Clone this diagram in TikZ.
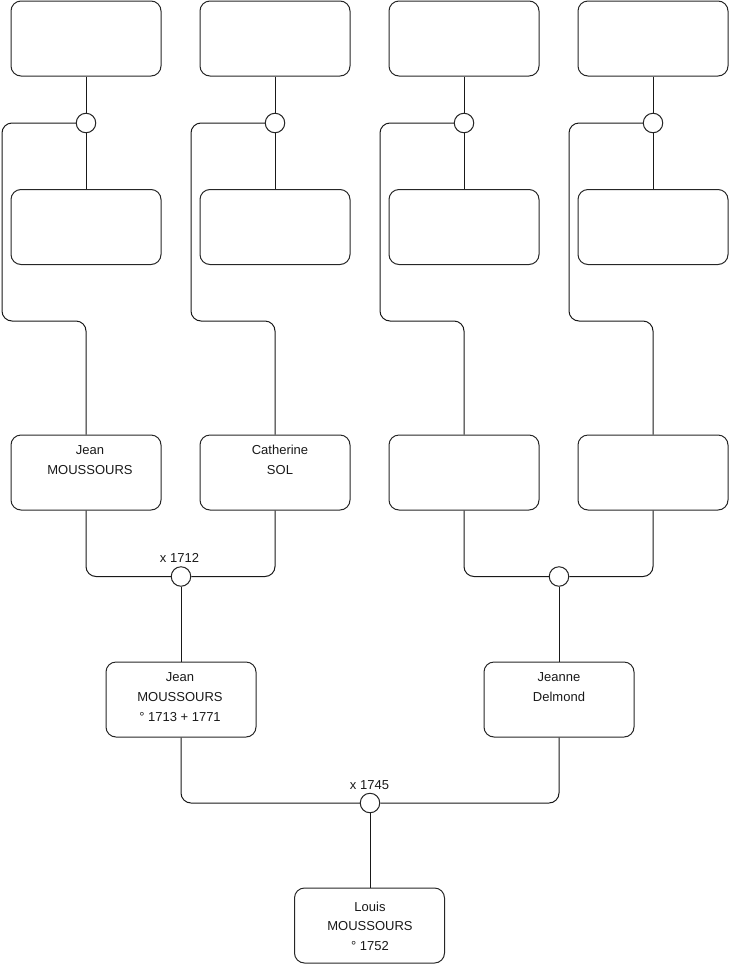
\documentclass[tikz,border=0pt]{standalone}
\usepackage{fontspec}
\setmainfont{Liberation Sans}
\begin{document}
\begin{tikzpicture}[x=1pt,y=-1pt,
  person/.style={draw=black!85,line width=1pt,rounded corners=10pt,minimum width=150pt,minimum height=75pt,inner sep=0pt},
  union/.style={draw=black!85,line width=1pt,circle,minimum size=19.5pt,inner sep=0pt,fill=white},
  txt/.style={font=\fontsize{13}{20}\selectfont,inner sep=0pt,text=black!90},
  link/.style={draw=black!90,line width=1pt,rounded corners=10pt}]
\useasboundingbox (0,0) rectangle (740,975);
% top generation
\foreach \i/\x in {1/86,2/275,3/464,4/653}{
  \node[person] (t\i) at (\x,38.5) {};
  \node[person] (s\i) at (\x,227) {};
  \node[person] (p\i) at (\x,472.5) {};
}
\foreach \i/\x/\r in {1/86/2,2/275/191,3/464/380,4/653/569}{
  \coordinate (r\i) at (\r,321);
}
\foreach \i/\x in {1/86,2/275,3/464,4/653}{
  \draw[link] (t\i.south) -- (\x,113.5);
  \draw[link] (\x,132.5) -- (s\i.north);
}
\node[union] (c1) at (86,123) {};
\node[union] (c2) at (275,123) {};
\node[union] (c3) at (464,123) {};
\node[union] (c4) at (653,123) {};
\foreach \i in {1,2,3,4}{
  \draw[link] (c\i.west) -| (r\i) -| (p\i.north);
}
% names in third row
\node[txt] (p1a) at (90,450) {Jean};
\node[txt] (p1b) at (90,470) {MOUSSOURS};
\node[txt] (p2a) at (280,450) {Catherine};
\node[txt] (p2b) at (280,470) {SOL};
% unions of third row
\node[union] (m1) at (181,576.5) {};
\node[union] (m2) at (559,576.5) {};
\draw[link] (p1.south) |- (m1.west);
\draw[link] (p2.south) |- (m1.east);
\draw[link] (p3.south) |- (m2.west);
\draw[link] (p4.south) |- (m2.east);
\node[txt] (l1) at (179.5,558.3) {x 1712};
% fourth row
\node[person] (g1) at (181,699.5) {};
\node[person] (g2) at (559,699.5) {};
\draw[link] (m1.south) -- (g1.north);
\draw[link] (m2.south) -- (g2.north);
\node[txt] (g1a) at (180,677.3) {Jean};
\node[txt] (g1b) at (180,697.3) {MOUSSOURS};
\node[txt] (g1c) at (180,717) {° 1713 + 1771};
\node[txt] (g2a) at (559,677.3) {Jeanne};
\node[txt] (g2b) at (559,697.3) {Delmond};
% last union
\node[union] (m3) at (370,803) {};
\draw[link] (g1.south) |- (m3.west);
\draw[link] (g2.south) |- (m3.east);
\node[txt] (l2) at (369.5,785.5) {x 1745};
\node[person] (ch) at (369.5,925.5) {};
\draw[link] (m3.south) -- (m3.south |- ch.north);
\node[txt] (cha) at (370,906.7) {Louis};
\node[txt] (chb) at (370,926.5) {MOUSSOURS};
\node[txt] (chc) at (370,946) {° 1752};
\end{tikzpicture}
\end{document}
